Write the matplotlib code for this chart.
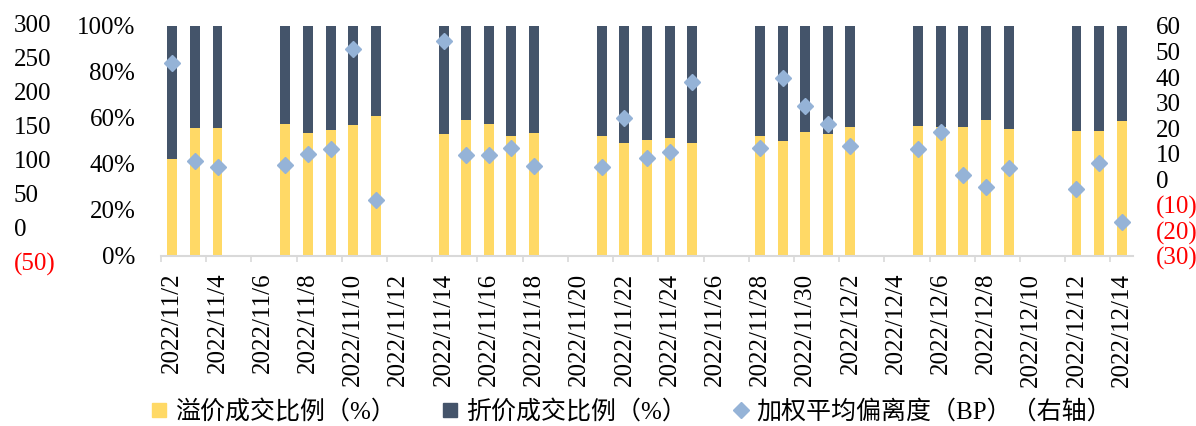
import numpy as np
import pandas as pd
import matplotlib
matplotlib.use('Agg')
import matplotlib.pyplot as plt
from matplotlib.lines import Line2D

plt.rcParams['font.family'] = ['Liberation Serif', 'Noto Sans CJK SC']
plt.rcParams['font.size'] = 18

dates = ['2022-11-02', '2022-11-03', '2022-11-04',
         '2022-11-07', '2022-11-08', '2022-11-09', '2022-11-10', '2022-11-11',
         '2022-11-14', '2022-11-15', '2022-11-16', '2022-11-17', '2022-11-18',
         '2022-11-21', '2022-11-22', '2022-11-23', '2022-11-24', '2022-11-25',
         '2022-11-28', '2022-11-29', '2022-11-30', '2022-12-01', '2022-12-02',
         '2022-12-05', '2022-12-06', '2022-12-07', '2022-12-08', '2022-12-09',
         '2022-12-12', '2022-12-13', '2022-12-14']
# 溢价成交比例 (%)
premium = [42.0, 55.7, 55.8,
           57.5, 53.5, 54.6, 57.0, 60.9,
           52.9, 59.3, 57.3, 52.0, 53.6,
           52.3, 49.0, 50.6, 51.2, 49.0,
           52.2, 49.9, 54.0, 52.9, 55.9,
           56.5, 56.0, 55.9, 59.1, 55.3,
           54.3, 54.3, 58.6]
# 加权平均偏离度 (BP)
bp = [45.4, 7.3, 4.9,
      5.7, 10.0, 12.0, 50.9, -8.1,
      54.1, 9.5, 9.5, 12.3, 5.3,
      4.9, 24.1, 8.3, 10.8, 37.9,
      12.1, 39.8, 28.8, 21.6, 13.2,
      12.0, 18.6, 1.7, -3.1, 4.3,
      -3.8, 6.3, -16.7]

c_prem = '#FFD966'
c_disc = '#44546A'
c_bp = '#95B3D7'
c_axis = '#D9D9D9'

start = pd.Timestamp('2022-11-02')
end = pd.Timestamp('2022-12-14')
ndays = (end - start).days + 1
x = np.array([(pd.Timestamp(d) - start).days for d in dates])
prem = np.array(premium) / 100
disc = 1 - prem

W, H = 1196, 426
fig = plt.figure(figsize=(W / 100, H / 100), dpi=100)
ax = fig.add_axes([161 / W, 1 - 256 / H, (1133 - 161) / W, 230 / H])

ax.bar(x, prem, width=0.44, color=c_prem, zorder=2)
ax.bar(x, disc, bottom=prem, width=0.44, color=c_disc, zorder=2)
ax.set_xlim(-0.5, ndays - 0.5)
ax.set_ylim(0, 1)
ax.set_yticks(np.arange(0, 1.01, 0.2))
ax.set_yticklabels([f'{int(round(v * 100))}%' for v in np.arange(0, 1.01, 0.2)])
ax.tick_params(axis='y', length=0, pad=18.5)

tick_days = list(range(0, ndays, 2))
ax.set_xticks(tick_days)
ax.set_xticklabels([(start + pd.Timedelta(days=d)).strftime('%Y/%-m/%-d') for d in tick_days],
                   rotation=90)
ax.set_xticks(np.arange(-0.5, ndays - 1, 2), minor=True)
ax.tick_params(axis='x', which='major', length=0, pad=12)
ax.tick_params(axis='x', which='minor', length=4.3, width=1.2, color=c_axis)
for s in ['top', 'left', 'right']:
    ax.spines[s].set_visible(False)
ax.spines['bottom'].set_color(c_axis)
ax.spines['bottom'].set_linewidth(1.5)
ax.spines['bottom'].set_zorder(3)

# right axis: 加权平均偏离度
ax2 = ax.twinx()
ax2.plot(x, bp, linestyle='none', marker='D', ms=8, color=c_bp, zorder=4)
ax2.set_ylim(-30, 60)
rt = list(range(-30, 61, 10))
ax2.set_yticks(rt)
ax2.set_yticklabels([f'({-v})' if v < 0 else str(v) for v in rt])
for lab, v in zip(ax2.get_yticklabels(), rt):
    if v < 0:
        lab.set_color('red')
ax2.tick_params(axis='y', length=0, pad=16.5)
for s in ax2.spines.values():
    s.set_visible(False)

# far-left extra axis
ax3 = fig.add_axes([14 / W, 1 - 262 / H, 0.001, 239 / H])
ax3.set_ylim(-50, 300)
lt = list(range(-50, 301, 50))
ax3.set_yticks(lt)
ax3.set_yticklabels([f'({-v})' if v < 0 else str(v) for v in lt])
for lab, v in zip(ax3.get_yticklabels(), lt):
    lab.set_ha('left')
    if v < 0:
        lab.set_color('red')
ax3.tick_params(axis='y', length=0, pad=0)
ax3.set_xticks([])
ax3.patch.set_visible(False)
for s in ax3.spines.values():
    s.set_visible(False)

handles = [
    Line2D([], [], marker='s', ls='none', ms=10, color=c_prem),
    Line2D([], [], marker='s', ls='none', ms=10, color=c_disc),
    Line2D([], [], marker='D', ls='none', ms=8, color=c_bp),
]
labels = ['溢价成交比例（%）', '折价成交比例（%）', '加权平均偏离度（BP）（右轴）']
fig.legend(handles, labels, loc='center left', bbox_to_anchor=(150 / W, 1 - 412 / H),
           ncol=3, frameon=False, fontsize=18, handlelength=0.7, handletextpad=0.3,
           columnspacing=1.8, borderpad=0, borderaxespad=0)

fig.savefig('out.png', dpi=100)
